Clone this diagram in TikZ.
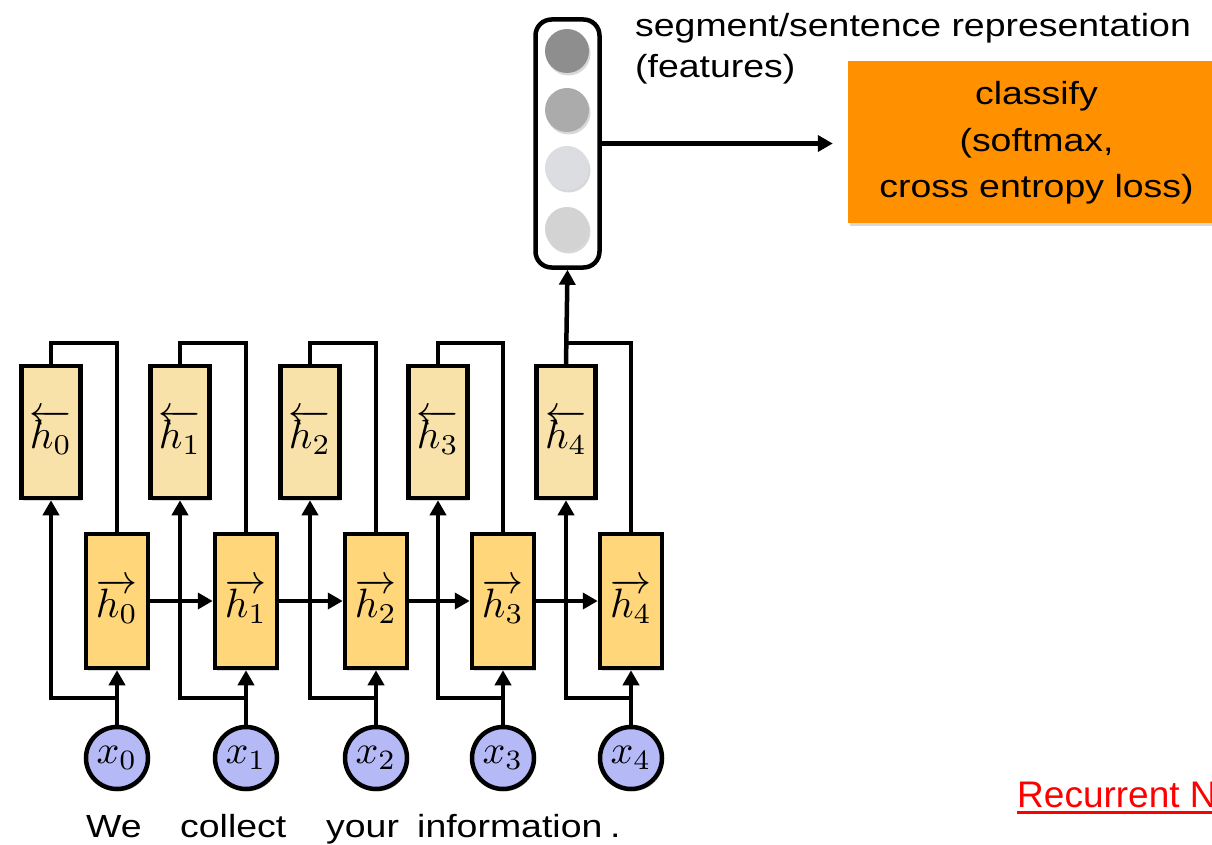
\documentclass[tikz,border=0pt]{standalone}
\usepackage{graphicx}
\usepackage{fontspec}
\setmainfont{Liberation Sans}[FakeStretch=1.17]
\newfontfamily\plainsans{Liberation Sans}
\usetikzlibrary{arrows.meta,shadows,calc}
\definecolor{fwd}{RGB}{255,214,122}
\definecolor{bwd}{RGB}{249,225,170}
\definecolor{inp}{RGB}{181,186,247}
\definecolor{orng}{RGB}{255,145,0}
\definecolor{redtxt}{RGB}{255,0,0}
\definecolor{ga}{RGB}{142,142,142}
\definecolor{gb}{RGB}{171,171,171}
\definecolor{gc}{RGB}{220,221,224}
\definecolor{gd}{RGB}{211,211,211}
\newcommand{\hlbl}[1]{\scalebox{4.1}{$#1$}}
\newcommand{\xlbl}[1]{\scalebox{4.0}{$#1$}}
\newcommand{\redul}[1]{\setbox0\hbox{#1}\rlap{\rule[-7.3pt]{\wd0}{3pt}}\box0}
\begin{document}
\begin{tikzpicture}[x=1pt,y=-1pt,
  shad/.style={drop shadow={opacity=0.3,shadow xshift=1.5pt,shadow yshift=-2.5pt}},
  fbox/.style={draw,line width=4.5pt,fill=fwd,minimum width=62pt,minimum height=134pt,inner sep=0pt,shad},
  bbox/.style={draw,line width=4.5pt,fill=bwd,minimum width=59pt,minimum height=132pt,inner sep=0pt,shad},
  inbox/.style={circle,draw,line width=4.5pt,fill=inp,minimum size=62pt,inner sep=0pt,shad},
  conn/.style={line width=4.5pt},
  arr/.style={conn,-{Triangle[length=15pt,width=16pt]}},
  word/.style={anchor=base west,inner sep=0pt,font=\fontsize{32}{44}\selectfont},
  feat/.style={circle,minimum size=44pt,inner sep=0pt,shad}
]
\clip (0,0) rectangle (1212,845);
\fill[white] (0,0) rectangle (1212,845);
\foreach \i/\fx/\bx in {0/117/51,1/246/180,2/376/310,3/503/438,4/631/566}{
  \node[fbox] (f\i) at (\fx,601) {\hlbl{\overrightarrow{h_\i}}};
  \node[bbox] (b\i) at (\bx,432) {\hlbl{\overleftarrow{h_\i}}};
  \node[inbox] (x\i) at (\fx,758) {\xlbl{x_\i}};
  \coordinate (j\i) at (\fx,698);
  \coordinate (t\i) at (\bx,343);
}
\foreach \i in {0,...,4}{
  \draw[arr] (x\i.north) -- (f\i.south);
  \draw[arr] (j\i) -| (b\i.south);
  \draw[conn] (f\i.north) |- (t\i) -- (b\i.north);
}
\foreach \i/\j in {0/1,1/2,2/3,3/4}{
  \draw[arr] (f\i.east) -- (f\j.west);
}
% feature vector
\node[draw,line width=4.5pt,rounded corners=16pt,minimum width=64pt,minimum height=248pt,inner sep=0pt] (vec) at (567.5,143.5) {};
\node[feat,fill=ga] (v0) at (567,51) {};
\node[feat,fill=gb] (v1) at (567,110) {};
\node[feat,fill=gc] (v2) at (567,168) {};
\node[feat,fill=gd] (v3) at (567,229) {};
\draw[arr] (b4.north) -- (vec.south);
% classifier
\node[fill=orng,minimum width=377pt,minimum height=162pt,inner sep=0pt,shad,font=\fontsize{32}{46.5}\selectfont] (cls) at (1036.5,142)
  {\raisebox{-5pt}{\begin{tabular}{@{}c@{}}classify\\(softmax,\\cross entropy loss)\end{tabular}}};
\draw[arr,shorten >=15pt] (vec.east) -- (vec.east -| cls.west);
% texts
\node[word] (seg) at (635,37) {segment/sentence representation};
\node[word] (fea) at (635,78) {(features)};
\node[word] (w0) at (86,837) {We};
\node[word] (w1) at (180,837) {collect};
\node[word] (w2) at (326,837) {your};
\node[word] (w3) at (417,837) {information};
\node[word] (w4) at (610,837) {.};
\node[word,text=redtxt,font=\plainsans\fontsize{37}{44}\selectfont] (rnn) at (1017,807) {\redul{Recurrent N}};
\end{tikzpicture}
\end{document}
